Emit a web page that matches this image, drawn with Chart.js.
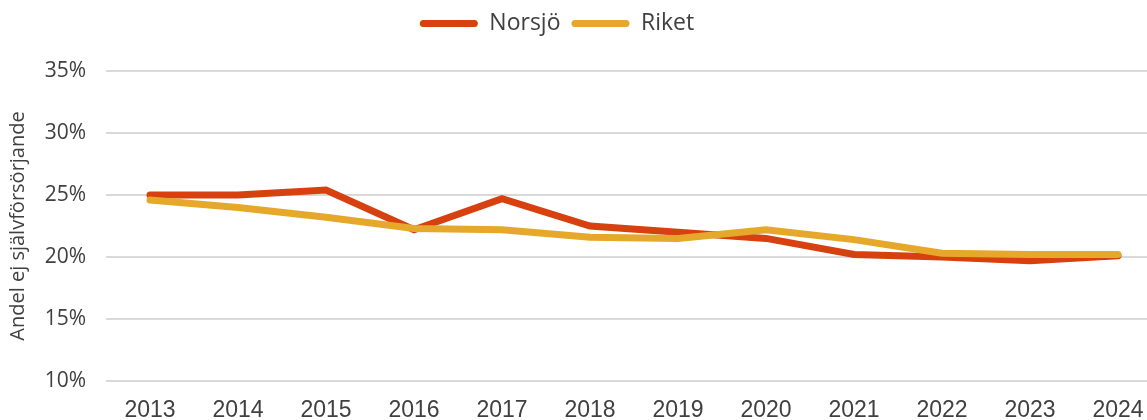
<!DOCTYPE html>
<html>
<head>
<meta charset="utf-8">
<script src="https://cdn.jsdelivr.net/npm/chart.js@4/dist/chart.umd.min.js"></script>
<style>
  html, body { margin: 0; padding: 0; background: #fff; overflow: hidden; }
  #wrap { width: 1162px; height: 420px; }
</style>
</head>
<body>
<div id="wrap"><canvas id="chart"></canvas></div>
<script>
// andel ej självförsörjande, procent
const years = ['2013', '2014', '2015', '2016', '2017', '2018', '2019', '2020', '2021', '2022', '2023', '2024'];
const norsjo = [25.0, 25.0, 25.4, 22.2, 24.7, 22.5, 22.0, 21.5, 20.2, 20.0, 19.7, 20.1];
const riket = [24.6, 24.0, 23.2, 22.3, 22.2, 21.6, 21.5, 22.2, 21.4, 20.3, 20.2, 20.2];
const yTicks = [10, 15, 20, 25, 30, 35];

const textColor = '#404040';
const mainFont = "'Open Sans', sans-serif";

// flytta legenden lite åt vänster och uppåt
const legendShift = {
    id: 'legendShift',
    afterLayout(chart) {
        const lg = chart.legend;
        lg.left -= 24;
        lg.right -= 24;
        lg.top -= 26;
        lg.bottom -= 26;
    }
};

new Chart(document.getElementById('chart'), {
    type: 'line',
    data: {
        labels: years,
        datasets: [{
            label: 'Norsjö',
            data: norsjo,
            borderColor: '#D7400F',
            backgroundColor: '#D7400F',
            borderWidth: 7,
            borderCapStyle: 'round',
            pointRadius: 0,
            tension: 0,
            order: 2
        }, {
            label: 'Riket',
            data: riket,
            borderColor: '#E5A82A',
            backgroundColor: '#E5A82A',
            borderWidth: 7,
            borderCapStyle: 'round',
            pointRadius: 0,
            tension: 0,
            order: 1
        }]
    },
    options: {
        responsive: true,
        maintainAspectRatio: false,
        animation: false,
        layout: { padding: { top: 27, right: 0, left: 0, bottom: 0 } },
        plugins: {
            tooltip: { enabled: false },
            legend: {
                position: 'top',
                labels: {
                    color: textColor,
                    font: { family: mainFont, size: 23 },
                    boxWidth: 58,
                    boxHeight: 7,
                    useBorderRadius: true,
                    borderRadius: 3.5,
                    padding: 11,
                    sort: (a, b) => a.datasetIndex - b.datasetIndex,
                    generateLabels(chart) {
                        const items = Chart.defaults.plugins.legend.labels.generateLabels(chart);
                        items.forEach(i => { i.lineWidth = 0; });
                        return items;
                    }
                }
            }
        },
        scales: {
            x: {
                offset: true,
                afterFit(scale) { scale.height = 39; },
                grid: { display: false, drawTicks: false },
                border: { display: false },
                ticks: {
                    color: textColor,
                    font: { family: "'Liberation Sans Narrow', sans-serif", size: 23 },
                    padding: 16,
                    maxRotation: 0
                }
            },
            y: {
                min: 10,
                max: 35,
                afterFit(scale) { scale.width = 106; },
                afterBuildTicks(scale) { scale.ticks = yTicks.map(v => ({ value: v })); },
                grid: { color: '#d9d9d9', lineWidth: 2, drawTicks: false },
                border: { display: false },
                ticks: {
                    color: textColor,
                    font: { family: mainFont, size: 21 },
                    padding: 20,
                    callback: v => v + '%'
                },
                title: {
                    display: true,
                    text: 'Andel ej självförsörjande',
                    color: textColor,
                    font: { family: mainFont, size: 20 },
                    padding: { top: 6, bottom: 0 }
                }
            }
        }
    },
    plugins: [legendShift]
});
</script>
</body>
</html>
